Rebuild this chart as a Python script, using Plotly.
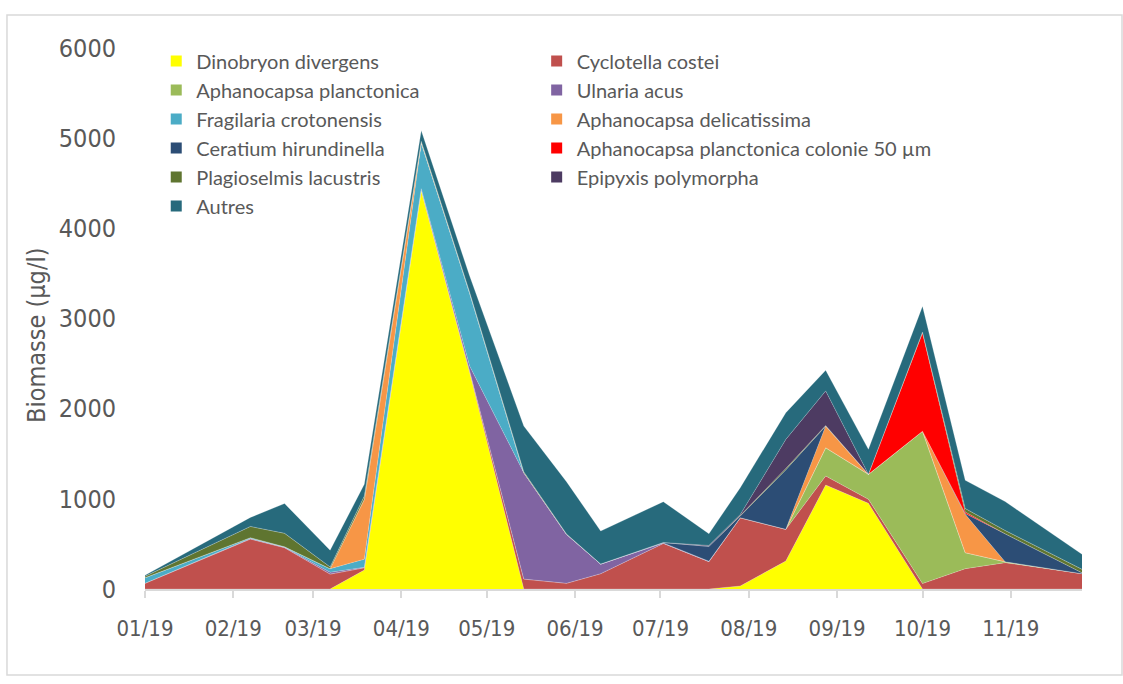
import plotly.graph_objects as go

# Sampling dates (2019)
dates = ["2019-01-09", "2019-02-15", "2019-02-27", "2019-03-15", "2019-03-27",
         "2019-04-16", "2019-05-03", "2019-05-22", "2019-06-06", "2019-06-18",
         "2019-07-10", "2019-07-26", "2019-08-06", "2019-08-22", "2019-09-05",
         "2019-09-20", "2019-10-09", "2019-10-24", "2019-11-07", "2019-12-04"]

# Biomass per taxon (µg/l), stacked bottom to top
dinobryon    = [0, 0, 0, 0, 210, 4420, 2400, 0, 0, 0, 0, 0, 33, 310, 1153, 950, 0, 0, 0, 0]
cyclotella   = [63, 554, 458, 165, 25, 5, 17, 110, 63, 170, 506, 303, 757, 352, 100, 45, 60, 225, 292, 170]
aph_planct   = [0, 0, 0, 0, 0, 0, 0, 0, 0, 0, 0, 0, 0, 0, 313, 277, 1690, 178, 10, 0]
ulnaria      = [0, 5, 5, 20, 5, 15, 55, 1180, 543, 107, 5, 5, 0, 0, 0, 0, 0, 0, 0, 0]
fragilaria   = [62, 10, 5, 40, 90, 505, 810, 0, 0, 0, 0, 0, 0, 0, 0, 0, 0, 0, 0, 0]
aph_delic    = [0, 0, 0, 0, 665, 10, 0, 0, 0, 0, 0, 0, 0, 0, 241, 0, 0, 425, 0, 0]
ceratium     = [0, 0, 0, 0, 0, 0, 0, 0, 0, 0, 5, 165, 20, 660, 0, 0, 0, 10, 310, 10]
aph_colonie  = [0, 0, 0, 0, 0, 0, 0, 0, 0, 0, 0, 0, 0, 0, 0, 0, 1090, 15, 0, 0]
plagioselmis = [16, 125, 150, 20, 36, 10, 10, 10, 5, 0, 0, 0, 5, 15, 5, 0, 10, 40, 38, 38]
epipyxis     = [0, 0, 0, 0, 0, 0, 0, 0, 0, 0, 0, 10, 10, 322, 385, 0, 0, 0, 0, 0]
autres       = [11, 100, 330, 185, 130, 120, 178, 507, 579, 366, 452, 130, 298, 296, 229, 277, 287, 313, 320, 167]

series = [
    ("Dinobryon divergens", dinobryon, "#FFFF00"),
    ("Cyclotella costei", cyclotella, "#C0504D"),
    ("Aphanocapsa planctonica", aph_planct, "#9BBB59"),
    ("Ulnaria acus", ulnaria, "#8064A2"),
    ("Fragilaria crotonensis", fragilaria, "#4BACC6"),
    ("Aphanocapsa delicatissima", aph_delic, "#F79646"),
    ("Ceratium hirundinella", ceratium, "#2C4D75"),
    ("Aphanocapsa planctonica colonie 50 µm", aph_colonie, "#FF0000"),
    ("Plagioselmis lacustris", plagioselmis, "#5F7530"),
    ("Epipyxis polymorpha", epipyxis, "#4D3B62"),
    ("Autres", autres, "#276A7C"),
]

tick_dates = ["2019-01-09", "2019-02-09", "2019-03-09", "2019-04-09", "2019-05-09",
              "2019-06-09", "2019-07-09", "2019-08-09", "2019-09-09", "2019-10-09",
              "2019-11-09"]
tick_labels = ["01/19", "02/19", "03/19", "04/19", "05/19", "06/19", "07/19",
               "08/19", "09/19", "10/19", "11/19"]
y_ticks = [0, 1000, 2000, 3000, 4000, 5000, 6000]

fig = go.Figure()

# stacked areas
for name, vals, col in series:
    fig.add_trace(go.Scatter(
        x=dates, y=vals, name=name, stackgroup="bio", mode="lines",
        line=dict(width=0.6, color="rgba(255,255,255,0.35)"),
        fillcolor=col, showlegend=False,
    ))

# legend swatches: even entries in the left column, odd ones in the right column
for i, (name, vals, col) in enumerate(series):
    fig.add_trace(go.Scatter(
        x=[None], y=[None], name=name, mode="markers",
        marker=dict(symbol="square", size=11, color=col),
        showlegend=True, legend="legend" if i % 2 == 0 else "legend2",
    ))

axis_font = "DejaVu Sans Condensed, Liberation Sans Narrow, sans-serif"
txt = "#595959"
leg_font = dict(family="Lato, Open Sans, sans-serif", size=20, color=txt)

fig.update_layout(
    width=1123, height=684,
    margin=dict(l=145, r=41, t=48, b=95),
    paper_bgcolor="white", plot_bgcolor="white",
    showlegend=True,
    legend=dict(
        orientation="v", traceorder="normal",
        x=0.012, y=1.012, xanchor="left", yanchor="top",
        font=leg_font, bgcolor="rgba(0,0,0,0)", itemclick=False,
    ),
    legend2=dict(
        orientation="v", traceorder="normal",
        x=0.418, y=1.012, xanchor="left", yanchor="top",
        font=leg_font, bgcolor="rgba(0,0,0,0)", itemclick=False,
    ),
    xaxis=dict(
        type="date",
        range=[dates[0], dates[-1]],
        tickvals=tick_dates, ticktext=tick_labels,
        showgrid=False, zeroline=False,
        showline=True, linecolor="#D9D9D9", linewidth=1.5,
        ticks="outside", ticklen=7, tickcolor="#D9D9D9", tickwidth=1.5,
        ticklabelstandoff=12,
        tickfont=dict(family=axis_font, size=22, color=txt),
    ),
    yaxis=dict(
        range=[0, 6000], tickvals=y_ticks,
        showgrid=False, zeroline=False, showline=False,
        ticks="", ticklabelstandoff=28,
        tickfont=dict(family=axis_font, size=25, color=txt),
    ),
    annotations=[dict(
        text="Biomasse (µg/l)", textangle=-90,
        xref="paper", yref="paper", x=-0.1163, y=0.4695,
        xanchor="center", yanchor="middle", showarrow=False,
        font=dict(family=axis_font, size=25, color=txt),
    )],
    shapes=[dict(
        type="rect", xref="paper", yref="paper",
        x0=-0.1473, x1=1.0427, y0=-0.159, y1=1.061,
        line=dict(color="#D9D9D9", width=1.5), fillcolor="rgba(0,0,0,0)",
        layer="below",
    )],
)

fig.write_html("out.html")
